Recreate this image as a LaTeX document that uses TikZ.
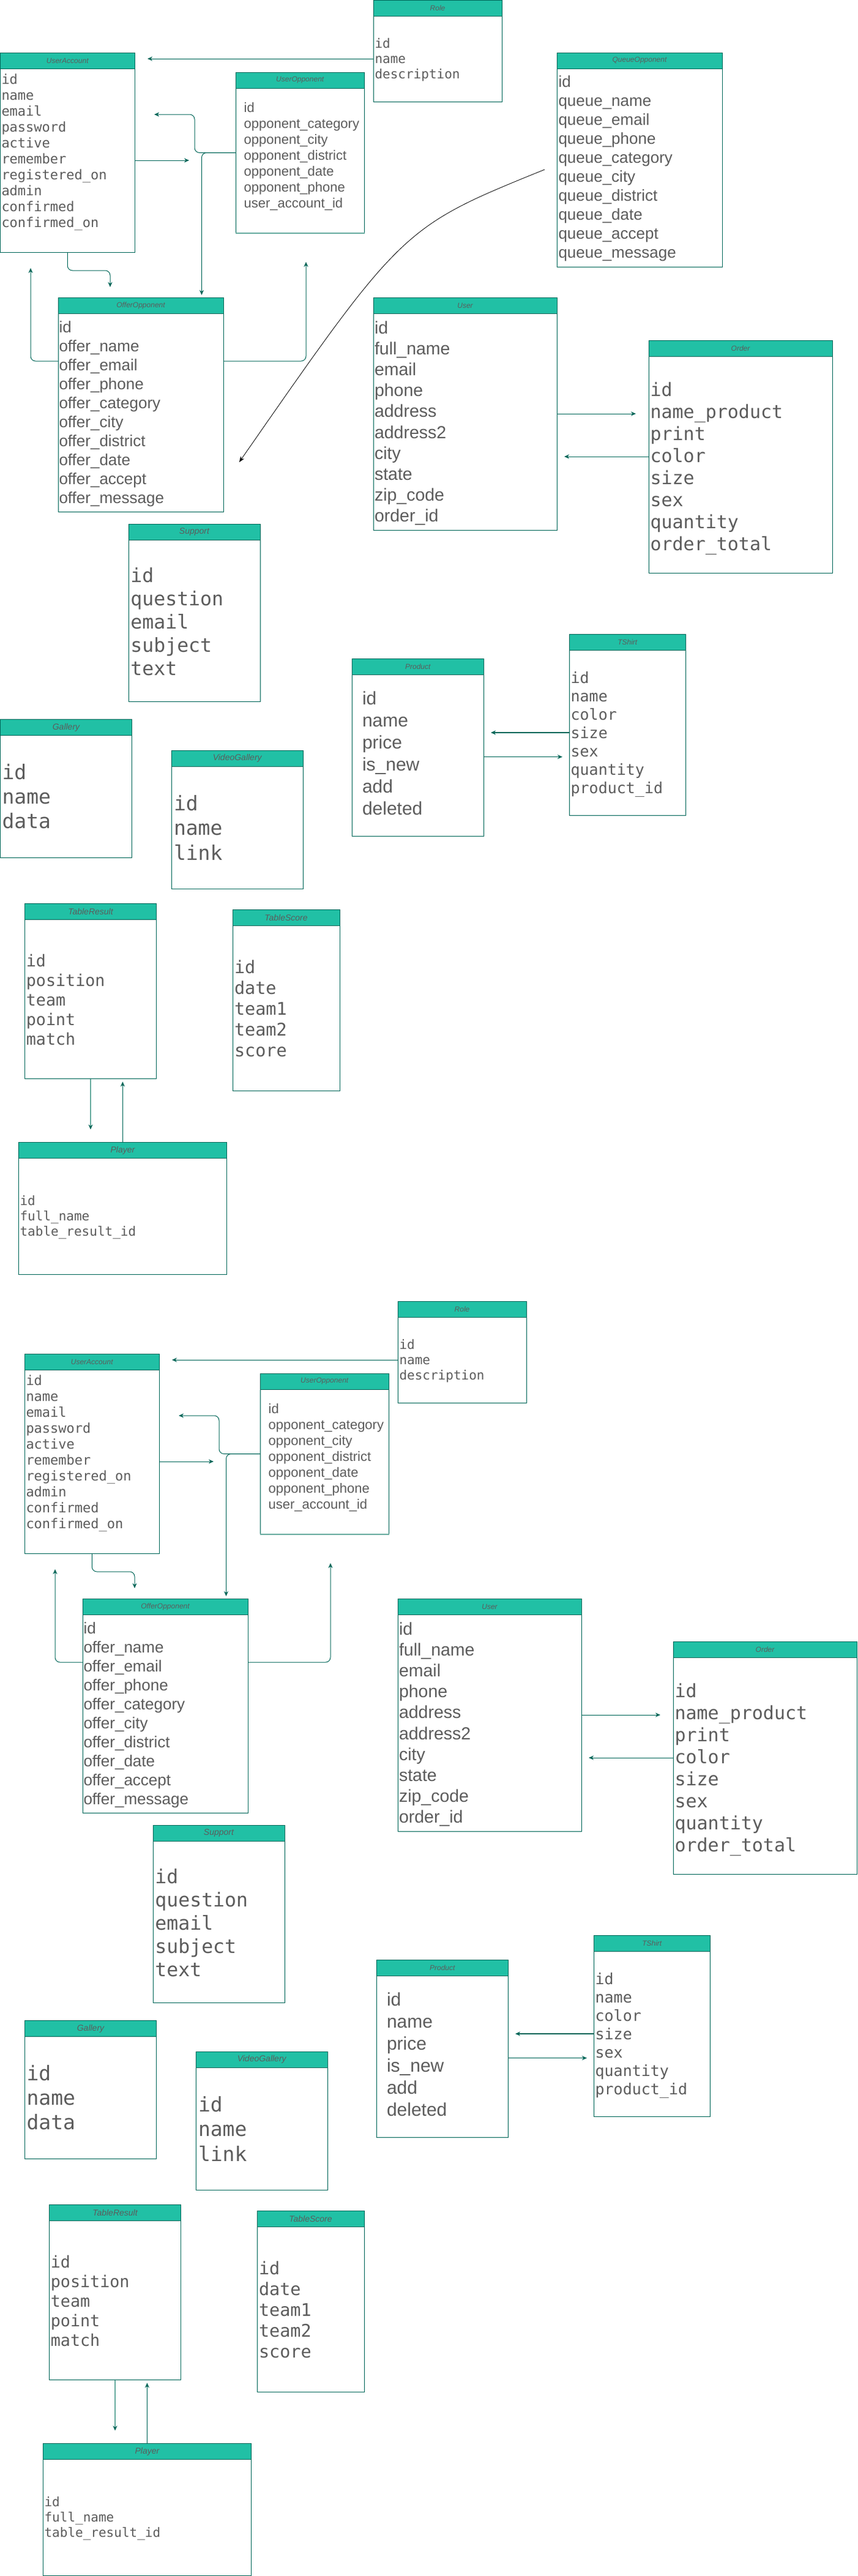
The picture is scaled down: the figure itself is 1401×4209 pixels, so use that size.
\documentclass[tikz,border=0pt]{standalone}
\usepackage{fontspec}
\setmainfont{Liberation Sans}
\newfontfamily\monofam{DejaVu Sans Mono}
\newfontfamily\sansfam{Liberation Sans}
\usetikzlibrary{arrows.meta,calc}
\definecolor{hfill}{HTML}{21C0A5}
\definecolor{stroke}{HTML}{006658}
\definecolor{txt}{HTML}{5C5C5C}
\definecolor{lightline}{HTML}{67AB9F}
\newcommand\monof[1]{\monofam\fontsize{#1pt}{#1pt}\selectfont}
\newcommand\sansf[1]{\sansfam\fontsize{#1pt}{#1pt}\selectfont}
\newcommand\ox{0}
\newcommand\oy{0}
% name, x, y, w, h, title, title size
\newcommand\mktable[7]{%
  \node[tblbox, minimum width=#4pt, minimum height=#5pt] (#1) at ({\ox+#2},{\oy+#3}) {};
  \node[tblhead, minimum width=#4pt, font=\sansfam\itshape\fontsize{#7pt}{#7pt}\selectfont] (#1-h) at ({\ox+#2},{\oy+#3}) {#6};
}
% name, x, first baseline, step, font, list
\newcommand\tblrows[6]{%
  \foreach \t [count=\i] in {#6} {
    \node[tblrow, font=#5] (#1-r\i) at ({\ox+#2},{\oy+#3+(\i-1)*#4}) {\t};
  }
}
\newcommand\erdiagram[3]{%
  \renewcommand\ox{#2}\renewcommand\oy{#3}%
  % Role
  \mktable{#1-role}{610}{0}{210}{166}{Role}{12}
  \tblrows{#1-role}{612.5}{78}{25}{\monof{21}}{id,name,description}
  % UserAccount
  \mktable{#1-ua}{0.5}{86}{219.5}{326}{UserAccount}{12}
  \tblrows{#1-ua}{2.5}{137}{26}{\monof{22}}{id,name,email,password,active,remember,registered\_on,admin,confirmed,confirmed\_on}
  % UserOpponent
  \mktable{#1-uo}{385}{118}{210.5}{263}{UserOpponent}{12}
  \draw[lightline, line width=2pt] (#1-uo.south west) -- (#1-uo.south east);
  \tblrows{#1-uo}{398.7}{183}{26}{\sansf{22}}{id,opponent\_category,opponent\_city,opponent\_district,opponent\_date,opponent\_phone,user\_account\_id}
  % OfferOpponent
  \mktable{#1-oo}{95}{486}{270}{350}{OfferOpponent}{12}
  \tblrows{#1-oo}{96.5}{543}{31}{\sansf{26}}{id,offer\_name,offer\_email,offer\_phone,offer\_category,offer\_city,offer\_district,offer\_date,offer\_accept,offer\_message}
  % User
  \mktable{#1-user}{610}{486}{300}{380}{User}{12}
  \tblrows{#1-user}{612}{545}{34.2}{\sansf{28.5}}{id,full\_name,email,phone,address,address2,city,state,zip\_code,order\_id}
  % Order
  \mktable{#1-order}{1060}{556}{300}{380}{Order}{12}
  \tblrows{#1-order}{1062.5}{647}{36}{\monof{30}}{id,name\_product,print,color,size,sex,quantity,order\_total}
  % Support
  \mktable{#1-support}{210}{856}{215}{290}{Support}{14}
  \tblrows{#1-support}{213.4}{951.5}{38}{\monof{31.5}}{id,question,email,subject,text}
  % Product
  \mktable{#1-product}{575}{1076}{215.6}{290.5}{Product}{12}
  \tblrows{#1-product}{592}{1151}{36}{\sansf{30}}{id,name,price,is\_new,add,deleted}
  % TShirt
  \mktable{#1-tshirt}{930}{1036.5}{190.5}{296}{TShirt}{12}
  \tblrows{#1-tshirt}{932.6}{1116}{30}{\monof{25}}{id,name,color,size,sex,quantity,product\_id}
  % Gallery
  \mktable{#1-gallery}{0.5}{1175.4}{215}{225.6}{Gallery}{14}
  \tblrows{#1-gallery}{3.6}{1273}{40}{\monof{33}}{id,name,data}
  % VideoGallery
  \mktable{#1-video}{280}{1226}{215.5}{226}{VideoGallery}{14}
  \tblrows{#1-video}{284}{1324}{40.5}{\monof{33}}{id,name,link}
  % TableResult
  \mktable{#1-tr}{40.6}{1476}{214.8}{286.5}{TableResult}{14}
  \tblrows{#1-tr}{42.9}{1579}{32}{\monof{26.7}}{id,position,team,point,match}
  % TableScore
  \mktable{#1-ts}{380}{1486.6}{175}{296}{TableScore}{14}
  \tblrows{#1-ts}{383}{1590}{34}{\monof{28.5}}{id,date,team1,team2,score}
  % Player
  \mktable{#1-player}{30.4}{1866.5}{340}{216}{Player}{14}
  \tblrows{#1-player}{32.6}{1969}{25}{\monof{21}}{id,full\_name,table\_result\_id}
  % connectors
  \coordinate (#1-e1) at ({\ox+241},{\oy+96});
  \draw[conn] ($(#1-role.north west)+(0,96)$) -- (#1-e1);
  \coordinate (#1-e2) at ({\ox+252},{\oy+187});
  \draw[connr] (#1-uo.west) -- ++(-67,0) |- (#1-e2);
  \coordinate (#1-e3) at ({\ox+329.5},{\oy+482});
  \draw[connr] (#1-uo.west) -| (#1-e3);
  \coordinate (#1-e4) at ({\ox+309},{\oy+262});
  \draw[conn] ($(#1-ua.north east)+(0,176)$) -- (#1-e4);
  \coordinate (#1-e5) at ({\ox+180},{\oy+469});
  \draw[connr] (#1-ua.south) -- ++(0,30) -| (#1-e5);
  \coordinate (#1-e6) at ({\ox+50},{\oy+438});
  \draw[connr] ($(#1-oo.north west)+(0,104)$) -| (#1-e6);
  \coordinate (#1-e7) at ({\ox+500},{\oy+428});
  \draw[connr] ($(#1-oo.north east)+(0,104)$) -| (#1-e7);
  \coordinate (#1-e9) at ({\ox+1039},{\oy+676});
  \draw[conn] (#1-user.east) -- (#1-e9);
  \coordinate (#1-e10) at ({\ox+922},{\oy+746});
  \draw[conn] (#1-order.west) -- (#1-e10);
  \coordinate (#1-e11) at ({\ox+802},{\oy+1197});
  \draw[conn, line width=1.5pt] ($(#1-tshirt.north west)+(0,160.5)$) -- (#1-e11);
  \coordinate (#1-e12) at ({\ox+919},{\oy+1236.6});
  \draw[conn] ($(#1-product.north east)+(0,160.6)$) -- (#1-e12);
  \coordinate (#1-e13) at ({\ox+148},{\oy+1845.5});
  \draw[lightconn] (#1-tr.south) -- (#1-e13);
  \coordinate (#1-e14) at ({\ox+200.4},{\oy+1767.4});
  \draw[conn] (#1-player.north) -- (#1-e14);
}
\begin{document}
\begin{tikzpicture}[x=1pt,y=-1pt,
  tblbox/.style={draw=stroke, fill=white, line width=1pt, inner sep=0pt, outer sep=0pt, anchor=north west},
  tblhead/.style={draw=stroke, fill=hfill, line width=1pt, inner sep=0pt, outer sep=0pt, anchor=north west, minimum height=26pt, text=txt},
  tblrow/.style={anchor=base west, inner sep=0pt, outer sep=0pt, text=txt},
  conn/.style={draw=stroke, line width=1pt, -{Stealth[length=8pt,width=7pt,inset=2.5pt]}},
  connr/.style={conn, rounded corners=8pt},
  lightconn/.style={draw=lightline, line width=1.5pt, -{Stealth[length=8pt,width=7pt,inset=2.5pt,color=stroke]}},
  curveconn/.style={draw=black, line width=0.8pt, -{Stealth[length=9pt,width=7pt,inset=2.5pt]}}]
\useasboundingbox (0,0) rectangle (1401,4209);
\fill[white] (0,0) rectangle (1401,4209);
\erdiagram{a}{0}{0}
\renewcommand\ox{0}\renewcommand\oy{0}
\mktable{a-queue}{910}{86}{270}{350}{QueueOpponent}{12}
\tblrows{a-queue}{912.5}{142.5}{31}{\sansf{26}}{id,queue\_name,queue\_email,queue\_phone,queue\_category,queue\_city,queue\_district,queue\_date,queue\_accept,queue\_message}
\coordinate (a-e8) at (391,755);
\draw[curveconn] ($(a-queue.north west)+(-20,191)$) .. controls (658,371) .. (a-e8);
\erdiagram{b}{40}{2126}
\end{tikzpicture}
\end{document}
